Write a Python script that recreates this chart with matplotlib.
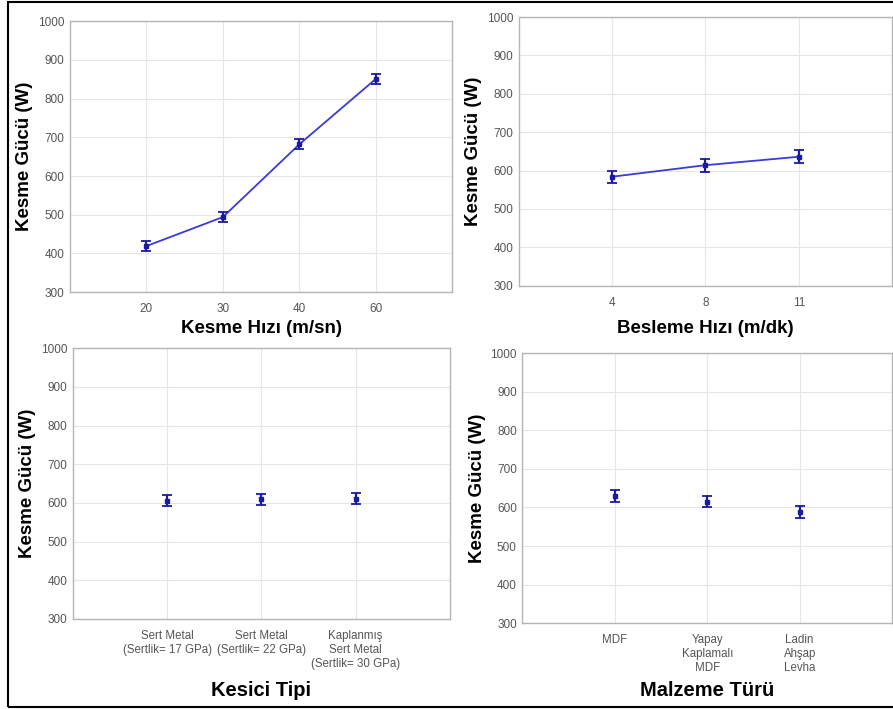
import matplotlib
matplotlib.use("Agg")
import matplotlib.pyplot as plt
from matplotlib.patches import Rectangle

plt.rcParams["font.family"] = ["Liberation Sans", "DejaVu Sans"]

# --- data ---
hiz_labels = ["20", "30", "40", "60"]
hiz_mean = [419, 494, 682, 851]
hiz_err = [12, 13, 13, 12]

besleme_labels = ["4", "8", "11"]
besleme_mean = [584, 614, 636]
besleme_err = [16, 17, 17]

kesici_labels = ["Sert Metal\n(Sertlik= 17 GPa)", "Sert Metal\n(Sertlik= 22 GPa)",
                 "Kaplanmış\nSert Metal\n(Sertlik= 30 GPa)"]
kesici_mean = [606, 609, 611]
kesici_err = [14, 15, 15]

malzeme_labels = ["MDF", "Yapay\nKaplamalı\nMDF", "Ladin\nAhşap\nLevha"]
malzeme_mean = [630, 615, 588]
malzeme_err = [16, 15, 15]

ylabel = "Kesme Gücü (W)"
line_col = "#3a3ad8"
err_col = "#1a1aa0"
grid_col = "#e6e6e6"
tick_col = "#555555"

fig = plt.figure(figsize=(8.93, 7.09), dpi=100)
fig.patches.append(Rectangle((8 / 893, 2 / 709), 1.0, 705 / 709, transform=fig.transFigure,
                             fill=False, edgecolor="black", linewidth=1.5))


def panel(rect, labels, mean, err, xlabel, connect, xlabel_size, xlab_y):
    ax = fig.add_axes(rect)
    x = list(range(len(labels)))
    if connect:
        ax.plot(x, mean, color=line_col, lw=1.3, zorder=2)
    ax.errorbar(x, mean, yerr=err, fmt="s", ms=2.5, color=err_col, ecolor=err_col,
                elinewidth=1.6, capsize=3.5, capthick=1.3, zorder=3)
    ax.set_xlim(-1, len(labels))
    ax.set_ylim(300, 1000)
    ax.set_yticks(range(300, 1001, 100))
    ax.set_xticks(x)
    multi = "\n" in "".join(labels)
    ax.set_xticklabels(labels, fontsize=8.3 if multi else 8.5,
                       color=tick_col, linespacing=1.2)
    ax.tick_params(axis="y", labelsize=8.5, labelcolor=tick_col, length=0, pad=4)
    ax.tick_params(axis="x", length=0, pad=8)
    ax.grid(True, color=grid_col, lw=0.8)
    ax.set_axisbelow(True)
    for s in ax.spines.values():
        s.set_color("#b5b5b5")
        s.set_linewidth(1.0)
    ax.set_ylabel(ylabel, fontsize=13.5, fontweight="bold")
    ax.yaxis.set_label_coords(-0.098, 0.5)
    ax.set_xlabel(xlabel, fontsize=xlabel_size, fontweight="bold")
    ax.xaxis.set_label_coords(0.5, xlab_y)
    return ax


panel([0.0784, 0.588, 0.428, 0.382], hiz_labels, hiz_mean, hiz_err,
      "Kesme Hızı (m/sn)", True, 13.5, -0.103)
panel([0.581, 0.597, 0.418, 0.379], besleme_labels, besleme_mean, besleme_err,
      "Besleme Hızı (m/dk)", True, 13.5, -0.126)
panel([0.0817, 0.127, 0.422, 0.382], kesici_labels, kesici_mean, kesici_err,
      "Kesici Tipi", False, 14.5, -0.23)
panel([0.585, 0.121, 0.414, 0.381], malzeme_labels, malzeme_mean, malzeme_err,
      "Malzeme Türü", False, 14.5, -0.215)

fig.savefig("out.png", dpi=100)
